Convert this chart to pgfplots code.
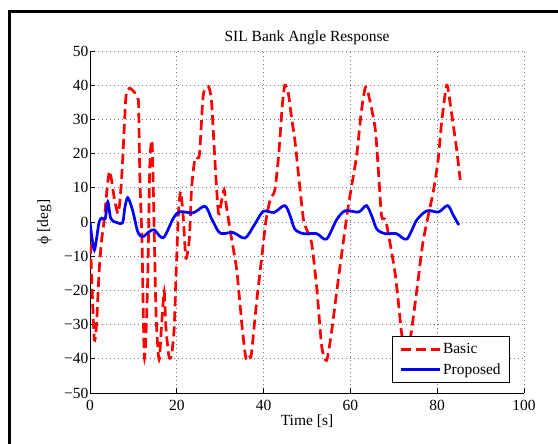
\documentclass[border=0pt]{standalone}
\usepackage{fontspec}
\setmainfont{Liberation Serif}
\usepackage{pgfplots}
\pgfplotsset{compat=1.18}

% Bank angle response of the two controllers (SIL run)
\pgfplotstableread{
t     phi
0     -2
0.5   -20
1.0   -34.5
1.5   -30
2.1   -14.5
2.7   -5
3.3   0.8
4.0   10.5
4.5   14.9
5.0   12
5.6   6.9
6.4   2.5
6.8   5
7.3   13
7.7   22.5
8.3   37
9.1   39.1
10.2  38
11.0  36
11.2  34.2
11.5  12.8
12.0  -6.7
12.3  -28
12.5  -39.4
12.7  -38
12.9  -33
13.3  -16.5
13.8  17.3
14.3  23.5
14.7  3
15.2  -26.2
15.7  -38
16.0  -39.9
16.5  -30.1
17.1  -20.4
17.5  -31
18.2  -39.4
18.8  -38.9
19.4  -31
19.8  -16.5
20.4  3
20.9  8.9
21.5  1.1
22.1  -10.6
22.9  -4.8
23.4  9.8
24.2  18.6
25.2  19.6
26.1  37.1
27.3  39.6
28.0  35.2
28.8  17.6
29.6  2.5
30.3  6
30.9  9.4
31.5  4
32.5  -4
33.8  -14
35.0  -30
35.7  -38
36.1  -40.5
36.8  -39.5
37.2  -38.5
38.5  -22
39.6  -10.1
40.5  0
41.5  6.4
42.6  9.4
43.5  20
44.3  34
44.9  40
45.7  37.6
46.5  30
47.2  24
48.2  12
49.2  0.6
50.2  -3
51.1  -6.4
52.3  -20
53.4  -36.5
54.5  -40.5
55.6  -32.6
57.5  -14
59.5  4.5
61.4  19.1
62.5  32
63.4  39.2
64.1  37.7
65.7  27.4
66.5  14
67.2  1.6
68.2  0.1
70.3  -15
71.8  -32.6
72.6  -39
73.2  -38
74.1  -31.6
75.5  -18
76.8  -5.3
79.1  8.9
80.2  18
81.0  28.9
82.2  40
83.1  33.7
84.5  21
85.3  12.3
}\basicdata

\pgfplotstableread{
t     phi
0     0
0.5   -5
1.0   -8.2
1.5   -5
2.1   0
2.7   1.1
3.5   1
4.1   5.9
4.8   1
6.0   -0.1
7.5   -0.2
8.0   4
8.7   7.1
9.8   3.5
11.0  -2.8
12.1  -4.3
13.7  -2.8
14.8  -2.3
16.9  -4.6
19.2  1.1
20.7  3
23.8  2.7
26.5  4.6
28.0  1
29.6  -2.8
30.7  -3.4
33.0  -3.1
35.7  -4.7
37.8  -1
39.9  3.1
42.4  2.8
44.9  4.8
46.2  1.5
47.2  -2.1
49.2  -3.4
52.2  -3.4
54.5  -5
56.8  0.6
58.8  3.3
61.9  2.9
63.7  4.8
65.0  1.5
66.1  -2.1
68.0  -3.4
70.6  -3.4
73.0  -5
75.3  0.6
77.7  3.3
80.3  2.9
82.4  4.8
83.7  2
85.0  -0.9
}\proposeddata

\begin{document}
\begin{tikzpicture}
\useasboundingbox (0pt,0pt) rectangle (558pt,444pt);
% figure frame
\begin{scope}
\clip (0pt,0pt) rectangle (558pt,444pt);
\draw[line width=3pt] (9.5pt,-20pt) -- (9.5pt,432.5pt) -- (600pt,432.5pt);
\end{scope}
\begin{axis}[
  at={(90pt,51pt)}, anchor=south west,
  scale only axis, width=434pt, height=342pt,
  xmin=0, xmax=100, ymin=-50, ymax=50,
  xtick={0,20,...,100},
  ytick={-50,-40,...,50},
  yticklabels={−50,−40,−30,−20,−10,0,10,20,30,40,50},
  axis x line*=bottom, axis y line*=left,
  axis line style={-, line width=0.8pt},
  tick align=inside, major tick length=5pt,
  tick style={black, line width=0.6pt},
  grid=major,
  major grid style={black!55, line width=0.7pt, dash pattern=on 0.8pt off 3.2pt},
  font=\fontsize{15.5}{18}\selectfont,
  /pgf/number format/assume math mode=true,
  xticklabel style={yshift=-4pt},
  yticklabel style={xshift=2pt},
  title={SIL Bank Angle Response},
  title style={yshift=-3pt},
  xlabel={Time [s]},
  ylabel={ϕ [deg]},
  xlabel style={at={(axis description cs:0.5,0)}, anchor=north, yshift=-18pt},
  ylabel style={yshift=6pt},
  legend style={at={(0.968,0.029)}, anchor=south east, draw=black,
    line width=0.8pt, font=\fontsize{15.5}{18}\selectfont,
    inner xsep=7pt, inner ysep=5pt, row sep=4pt},
  legend cell align=left,
  legend image code/.code={\draw[#1] (0pt,0pt) -- (39pt,0pt);},
]
\addplot[red, line width=2.7pt, dash pattern=on 10pt off 5pt, smooth, tension=0.4]
  table[x=t, y=phi] {\basicdata};
\addlegendentry{Basic}
\addplot[blue, line width=2.7pt, smooth, tension=0.5]
  table[x=t, y=phi] {\proposeddata};
\addlegendentry{Proposed}
\end{axis}
\end{tikzpicture}
\end{document}
